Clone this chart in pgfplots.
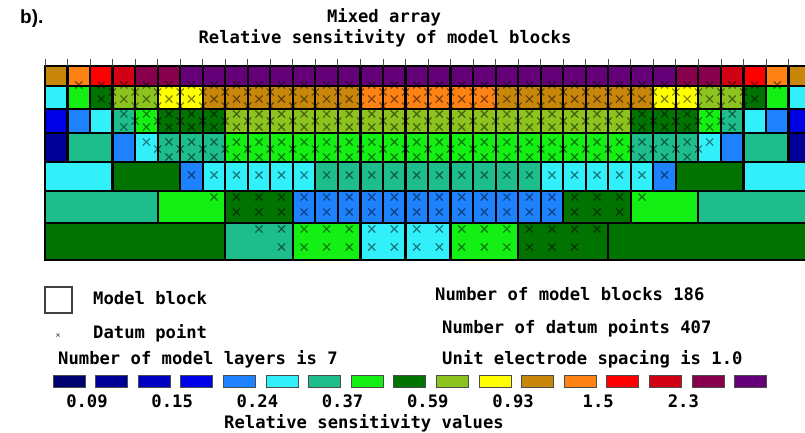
\documentclass[border=0pt]{standalone}
\usepackage{pgfplots}
\usepackage{pgfplotstable}
\pgfplotsset{compat=1.18}
\usepackage{fontspec}
\setmonofont{DejaVu Sans Mono}
\newfontfamily\labfont{Liberation Sans}
\definecolor{sc1}{RGB}{0,0,110}
\definecolor{sc2}{RGB}{0,0,150}
\definecolor{sc3}{RGB}{0,0,195}
\definecolor{sc4}{RGB}{0,0,230}
\definecolor{sc5}{RGB}{30,130,255}
\definecolor{sc6}{RGB}{50,240,250}
\definecolor{sc7}{RGB}{30,190,140}
\definecolor{sc8}{RGB}{20,240,20}
\definecolor{sc9}{RGB}{0,115,0}
\definecolor{sc10}{RGB}{140,195,30}
\definecolor{sc11}{RGB}{255,255,0}
\definecolor{sc12}{RGB}{200,135,10}
\definecolor{sc13}{RGB}{255,130,20}
\definecolor{sc14}{RGB}{255,0,0}
\definecolor{sc15}{RGB}{210,0,20}
\definecolor{sc16}{RGB}{135,0,75}
\definecolor{sc17}{RGB}{100,0,120}
% model blocks: a b = column boundaries, t u = top/bottom (px from top), c = colour class
\pgfplotstableread{
a b t u c
0 1 66 86 12
1 2 66 86 13
2 3 66 86 14
3 4 66 86 15
4 5 66 86 16
5 6 66 86 16
6 7 66 86 17
7 8 66 86 17
8 9 66 86 17
9 10 66 86 17
10 11 66 86 17
11 12 66 86 17
12 13 66 86 17
13 14 66 86 17
14 15 66 86 17
15 16 66 86 17
16 17 66 86 17
17 18 66 86 17
18 19 66 86 17
19 20 66 86 17
20 21 66 86 17
21 22 66 86 17
22 23 66 86 17
23 24 66 86 17
24 25 66 86 17
25 26 66 86 17
26 27 66 86 17
27 28 66 86 17
28 29 66 86 16
29 30 66 86 16
30 31 66 86 15
31 32 66 86 14
32 33 66 86 13
33 34 66 86 12
0 1 86 109 6
1 2 86 109 8
2 3 86 109 9
3 4 86 109 10
4 5 86 109 10
5 6 86 109 11
6 7 86 109 11
7 8 86 109 12
8 9 86 109 12
9 10 86 109 12
10 11 86 109 12
11 12 86 109 12
12 13 86 109 12
13 14 86 109 12
14 15 86 109 13
15 16 86 109 13
16 17 86 109 13
17 18 86 109 13
18 19 86 109 13
19 20 86 109 13
20 21 86 109 12
21 22 86 109 12
22 23 86 109 12
23 24 86 109 12
24 25 86 109 12
25 26 86 109 12
26 27 86 109 12
27 28 86 109 11
28 29 86 109 11
29 30 86 109 10
30 31 86 109 10
31 32 86 109 9
32 33 86 109 8
33 34 86 109 6
0 1 109 133 4
1 2 109 133 5
2 3 109 133 6
3 4 109 133 7
4 5 109 133 8
5 6 109 133 9
6 7 109 133 9
7 8 109 133 9
8 9 109 133 10
9 10 109 133 10
10 11 109 133 10
11 12 109 133 10
12 13 109 133 10
13 14 109 133 10
14 15 109 133 10
15 16 109 133 10
16 17 109 133 10
17 18 109 133 10
18 19 109 133 10
19 20 109 133 10
20 21 109 133 10
21 22 109 133 10
22 23 109 133 10
23 24 109 133 10
24 25 109 133 10
25 26 109 133 10
26 27 109 133 9
27 28 109 133 9
28 29 109 133 9
29 30 109 133 8
30 31 109 133 7
31 32 109 133 6
32 33 109 133 5
33 34 109 133 4
0 1 133 162 2
1 3 133 162 7
3 4 133 162 5
4 5 133 162 6
5 6 133 162 7
6 7 133 162 7
7 8 133 162 7
8 9 133 162 8
9 10 133 162 8
10 11 133 162 8
11 12 133 162 8
12 13 133 162 8
13 14 133 162 8
14 15 133 162 8
15 16 133 162 8
16 17 133 162 8
17 18 133 162 8
18 19 133 162 8
19 20 133 162 8
20 21 133 162 8
21 22 133 162 8
22 23 133 162 8
23 24 133 162 8
24 25 133 162 8
25 26 133 162 8
26 27 133 162 7
27 28 133 162 7
28 29 133 162 7
29 30 133 162 6
30 31 133 162 5
31 33 133 162 7
33 34 133 162 2
0 3 162 191 6
3 6 162 191 9
6 7 162 191 5
7 8 162 191 6
8 9 162 191 6
9 10 162 191 6
10 11 162 191 6
11 12 162 191 6
12 13 162 191 7
13 14 162 191 7
14 15 162 191 7
15 16 162 191 7
16 17 162 191 7
17 18 162 191 7
18 19 162 191 7
19 20 162 191 7
20 21 162 191 7
21 22 162 191 7
22 23 162 191 6
23 24 162 191 6
24 25 162 191 6
25 26 162 191 6
26 27 162 191 6
27 28 162 191 5
28 31 162 191 9
31 34 162 191 6
0 5 191 223 7
5 8 191 223 8
8 11 191 223 9
11 12 191 223 5
12 13 191 223 5
13 14 191 223 5
14 15 191 223 5
15 16 191 223 5
16 17 191 223 5
17 18 191 223 5
18 19 191 223 5
19 20 191 223 5
20 21 191 223 5
21 22 191 223 5
22 23 191 223 5
23 26 191 223 9
26 29 191 223 8
29 34 191 223 7
0 8 223 260 9
8 11 223 260 7
11 14 223 260 8
14 16 223 260 6
16 18 223 260 6
18 21 223 260 8
21 25 223 260 9
25 34 223 260 9
}\blocks
\begin{document}
\begin{tikzpicture}
\path[use as bounding box] (0pt,0pt) rectangle (805pt,432pt);
\pgfplotstablegetrowsof{\blocks}
\pgfmathtruncatemacro{\nb}{\pgfplotsretval-1}
\begin{axis}[at={(0pt,0pt)}, anchor=south west, scale only axis,
  width=805pt, height=432pt, xmin=-1.9973, xmax=33.733, ymin=0, ymax=432,
  y dir=reverse, hide axis, clip=true]
\pgfplotsforeachungrouped \i in {0,...,\nb}{%
  \pgfplotstablegetelem{\i}{a}\of\blocks\let\bA\pgfplotsretval
  \pgfplotstablegetelem{\i}{b}\of\blocks\let\bB\pgfplotsretval
  \pgfplotstablegetelem{\i}{t}\of\blocks\let\bT\pgfplotsretval
  \pgfplotstablegetelem{\i}{u}\of\blocks\let\bU\pgfplotsretval
  \pgfplotstablegetelem{\i}{c}\of\blocks\let\bC\pgfplotsretval
  \edef\tmp{\noexpand\addplot[forget plot, fill=sc\bC, draw=black, line width=2.2pt]
    coordinates {(\bA,\bT) (\bB,\bT) (\bB,\bU) (\bA,\bU)} -- cycle;}%
  \tmp
}
% electrode positions
\addplot[forget plot, only marks, mark=|, mark size=3.5pt, mark options={draw=black!70, line width=0.8pt}] coordinates {
(0,62)(1,62)(2,62)(3,62)(4,62)(5,62)(6,62)(7,62)(8,62)(9,62)(10,62)(11,62)(12,62)(13,62)(14,62)(15,62)(16,62)(17,62)
(18,62)(19,62)(20,62)(21,62)(22,62)(23,62)(24,62)(25,62)(26,62)(27,62)(28,62)(29,62)(30,62)(31,62)(32,62)(33,62)(34,62)};
% datum points
\addplot[forget plot, only marks, mark=x, mark size=5pt, mark options={draw=black, draw opacity=0.5, line width=1.2pt}] coordinates {
(1.5,85)(2.5,85)(3.5,85)(4.5,85)(5.5,85)(6.5,85)(7.5,85)(8.5,85)(9.5,85)(10.5,85)(11.5,85)(12.5,85)(13.5,85)(14.5,85)(15.5,85)(16.5,85)
(17.5,85)(18.5,85)(19.5,85)(20.5,85)(21.5,85)(22.5,85)(23.5,85)(24.5,85)(25.5,85)(26.5,85)(27.5,85)(28.5,85)(29.5,85)(30.5,85)(31.5,85)(32.5,85)
(3,92)(4,92)(5,92)(6,92)(7,92)(8,92)(9,92)(10,92)(11,92)(12,92)(13,92)(14,92)(15,92)(16,92)(17,92)
(18,92)(19,92)(20,92)(21,92)(22,92)(23,92)(24,92)(25,92)(26,92)(27,92)(28,92)(29,92)(30,92)(31,92)
(2.5,99)(3.5,99)(4.5,99)(5.5,99)(6.5,99)(7.5,99)(8.5,99)(9.5,99)(10.5,99)(11.5,99)(12.5,99)(13.5,99)(14.5,99)(15.5,99)(16.5,99)
(17.5,99)(18.5,99)(19.5,99)(20.5,99)(21.5,99)(22.5,99)(23.5,99)(24.5,99)(25.5,99)(26.5,99)(27.5,99)(28.5,99)(29.5,99)(30.5,99)(31.5,99)
(3,106)(4,106)(5,106)(6,106)(7,106)(8,106)(9,106)(10,106)(11,106)(12,106)(13,106)(14,106)(15,106)(16,106)(17,106)
(18,106)(19,106)(20,106)(21,106)(22,106)(23,106)(24,106)(25,106)(26,106)(27,106)(28,106)(29,106)(30,106)(31,106)
(3.5,114)(4.5,114)(5.5,114)(6.5,114)(7.5,114)(8.5,114)(9.5,114)(10.5,114)(11.5,114)(12.5,114)(13.5,114)(14.5,114)(15.5,114)(16.5,114)
(17.5,114)(18.5,114)(19.5,114)(20.5,114)(21.5,114)(22.5,114)(23.5,114)(24.5,114)(25.5,114)(26.5,114)(27.5,114)(28.5,114)(29.5,114)(30.5,114)
(4,121)(5,121)(6,121)(7,121)(8,121)(9,121)(10,121)(11,121)(12,121)(13,121)(14,121)(15,121)(16,121)(17,121)
(18,121)(19,121)(20,121)(21,121)(22,121)(23,121)(24,121)(25,121)(26,121)(27,121)(28,121)(29,121)(30,121)
(3.5,127)(4.5,127)(5.5,127)(6.5,127)(7.5,127)(8.5,127)(9.5,127)(10.5,127)(11.5,127)(12.5,127)(13.5,127)(14.5,127)(15.5,127)(16.5,127)
(17.5,127)(18.5,127)(19.5,127)(20.5,127)(21.5,127)(22.5,127)(23.5,127)(24.5,127)(25.5,127)(26.5,127)(27.5,127)(28.5,127)(29.5,127)(30.5,127)
(4.5,142)(5.5,142)(6.5,142)(7.5,142)(8.5,142)(9.5,142)(10.5,142)(11.5,142)(12.5,142)(13.5,142)(14.5,142)(15.5,142)(16.5,142)
(17.5,142)(18.5,142)(19.5,142)(20.5,142)(21.5,142)(22.5,142)(23.5,142)(24.5,142)(25.5,142)(26.5,142)(27.5,142)(28.5,142)(29.5,142)
(5,149)(6,149)(7,149)(8,149)(9,149)(10,149)(11,149)(12,149)(13,149)(14,149)(15,149)(16,149)(17,149)
(18,149)(19,149)(20,149)(21,149)(22,149)(23,149)(24,149)(25,149)(26,149)(27,149)(28,149)(29,149)
(5.5,157)(6.5,157)(7.5,157)(8.5,157)(9.5,157)(10.5,157)(11.5,157)(12.5,157)(13.5,157)(14.5,157)(15.5,157)(16.5,157)
(17.5,157)(18.5,157)(19.5,157)(20.5,157)(21.5,157)(22.5,157)(23.5,157)(24.5,157)(25.5,157)(26.5,157)(27.5,157)(28.5,157)
(6.5,175)(7.5,175)(8.5,175)(9.5,175)(10.5,175)(11.5,175)(12.5,175)(13.5,175)(14.5,175)(15.5,175)(16.5,175)
(17.5,175)(18.5,175)(19.5,175)(20.5,175)(21.5,175)(22.5,175)(23.5,175)(24.5,175)(25.5,175)(26.5,175)(27.5,175)
(7.5,197)(8.5,197)(9.5,197)(10.5,197)(11.5,197)(12.5,197)(13.5,197)(14.5,197)(15.5,197)(16.5,197)
(17.5,197)(18.5,197)(19.5,197)(20.5,197)(21.5,197)(22.5,197)(23.5,197)(24.5,197)(25.5,197)(26.5,197)
(8.5,212)(9.5,212)(10.5,212)(11.5,212)(12.5,212)(13.5,212)(14.5,212)(15.5,212)(16.5,212)
(17.5,212)(18.5,212)(19.5,212)(20.5,212)(21.5,212)(22.5,212)(23.5,212)(24.5,212)(25.5,212)
(9.5,229)(10.5,229)(11.5,229)(12.5,229)(13.5,229)(14.5,229)(15.5,229)(16.5,229)
(17.5,229)(18.5,229)(19.5,229)(20.5,229)(21.5,229)(22.5,229)(23.5,229)(24.5,229)
(10.5,247)(11.5,247)(12.5,247)(13.5,247)(14.5,247)(15.5,247)(16.5,247)
(17.5,247)(18.5,247)(19.5,247)(20.5,247)(21.5,247)(22.5,247)(23.5,247)};
\end{axis}
% texts
\node[anchor=west, inner sep=0pt, font=\labfont\bfseries\fontsize{19}{22}\selectfont] at (20pt,413pt) {b).};
\node[inner sep=0pt, font=\ttfamily\bfseries\fontsize{17.2}{20}\selectfont] at (384pt,415pt) {Mixed array};
\node[inner sep=0pt, font=\ttfamily\bfseries\fontsize{17.2}{20}\selectfont] at (385pt,394pt) {Relative sensitivity of model blocks};
\filldraw[fill=white, draw=black!75, line width=1.5pt] (45pt,119pt) rectangle (72pt,145pt);
\node[anchor=west, inner sep=0pt, font=\ttfamily\bfseries\fontsize{17.2}{20}\selectfont] at (93pt,134pt) {Model block};
\draw[black!55, line width=0.8pt] (56.5pt,95.5pt) -- (59.5pt,98.5pt) (56.5pt,98.5pt) -- (59.5pt,95.5pt);
\node[anchor=west, inner sep=0pt, font=\ttfamily\bfseries\fontsize{17.2}{20}\selectfont] at (93pt,99pt) {Datum point};
\node[anchor=west, inner sep=0pt, font=\ttfamily\bfseries\fontsize{17.2}{20}\selectfont] at (58pt,73pt) {Number of model layers is 7};
\node[anchor=west, inner sep=0pt, font=\ttfamily\bfseries\fontsize{17.2}{20}\selectfont] at (435pt,138pt) {Number of model blocks 186};
\node[anchor=west, inner sep=0pt, font=\ttfamily\bfseries\fontsize{17.2}{20}\selectfont] at (442pt,104pt) {Number of datum points 407};
\node[anchor=west, inner sep=0pt, font=\ttfamily\bfseries\fontsize{17.2}{20}\selectfont] at (442pt,73pt) {Unit electrode spacing is 1.0};
% colour scale
\foreach \k [count=\n from 0] in {1,...,17} {
  \filldraw[fill=sc\k, draw=black!70, line width=0.8pt] ({53pt+42.6pt*\n},45pt) rectangle ({85pt+42.6pt*\n},57pt);
}
\foreach \lab [count=\n from 0] in {0.09,0.15,0.24,0.37,0.59,0.93,1.5,2.3} {
  \node[inner sep=0pt, font=\ttfamily\bfseries\fontsize{17.2}{20}\selectfont] at ({87pt+85.2pt*\n},31pt) {\lab};
}
\node[inner sep=0pt, font=\ttfamily\bfseries\fontsize{17.2}{20}\selectfont] at (364pt,9pt) {Relative sensitivity values};
\end{tikzpicture}
\end{document}
